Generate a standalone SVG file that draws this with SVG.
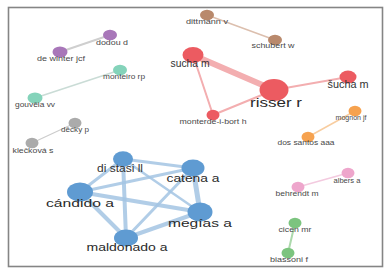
<svg xmlns="http://www.w3.org/2000/svg" width="391" height="272" viewBox="0 0 391 272">
<style>
text{font-family:"Liberation Sans",Arial,sans-serif;text-anchor:middle}
.s{font-size:7.8px;fill:#484848}
.m{font-size:10px;fill:#333}
.l{font-size:11.5px;fill:#2a2a2a}
.xl{font-size:13.5px;fill:#2a2a2a}
.red{fill:#ec5b61}
.blue{fill:#5f9bd2}
.purple{fill:#a877b9}
.teal{fill:#84d3ba}
.gray{fill:#ababab}
.brown{fill:#b9896c}
.orange{fill:#f6a24f}
.pink{fill:#eea6cc}
.green{fill:#7cc47f}
#edges line{stroke-linecap:round;fill:none}
.er{stroke:#f3aeb0}
.eb{stroke:#a3c4e3;stroke-opacity:0.85}
</style>
<rect x="0" y="0" width="391" height="272" fill="#fff"/>
<rect x="8.5" y="7.5" width="374" height="259" fill="none" stroke="#858585" stroke-width="1.6"/>
<g id="edges">
<line x1="207" y1="15" x2="275" y2="40" stroke="#dcbfae" stroke-width="1.5"/>
<line x1="110" y1="35" x2="60" y2="52" stroke="#cfcfcf" stroke-width="2"/>
<line x1="120" y1="70" x2="35" y2="98" stroke="#cadcd6" stroke-width="1.5"/>
<line x1="75" y1="123" x2="32" y2="143" stroke="#cccccc" stroke-width="1.2"/>
<line class="er" x1="193" y1="55" x2="274" y2="90" stroke-width="6"/>
<line class="er" x1="193" y1="55" x2="213" y2="115" stroke-width="2"/>
<line class="er" x1="213" y1="115" x2="274" y2="90" stroke-width="2"/>
<line class="er" x1="274" y1="90" x2="348" y2="77" stroke-width="2"/>
<line x1="308" y1="137" x2="355" y2="111" stroke="#f8cda0" stroke-width="1.5"/>
<line x1="348" y1="173" x2="298" y2="187" stroke="#f3cadf" stroke-width="1.5"/>
<line x1="295" y1="223" x2="288" y2="253" stroke="#acd9ac" stroke-width="2"/>
<line class="eb" x1="80" y1="192" x2="123" y2="159" stroke-width="3"/>
<line class="eb" x1="80" y1="192" x2="193" y2="168" stroke-width="3"/>
<line class="eb" x1="80" y1="192" x2="200" y2="212" stroke-width="4"/>
<line class="eb" x1="80" y1="192" x2="126" y2="238" stroke-width="4"/>
<line class="eb" x1="123" y1="159" x2="193" y2="168" stroke-width="3"/>
<line class="eb" x1="123" y1="159" x2="200" y2="212" stroke-width="2.5"/>
<line class="eb" x1="123" y1="159" x2="126" y2="238" stroke-width="4"/>
<line class="eb" x1="193" y1="168" x2="200" y2="212" stroke-width="5"/>
<line class="eb" x1="193" y1="168" x2="126" y2="238" stroke-width="3"/>
<line class="eb" x1="200" y1="212" x2="126" y2="238" stroke-width="4"/>
</g>
<g id="n-dittmann"><ellipse class="brown" cx="207" cy="15" rx="7" ry="5.2"/><text class="s" x="207" y="24" textLength="42" lengthAdjust="spacingAndGlyphs">dittmann v</text></g>
<g id="n-schubert"><ellipse class="brown" cx="275" cy="40" rx="7" ry="5.2"/><text class="s" x="273" y="48" textLength="43" lengthAdjust="spacingAndGlyphs">schubert w</text></g>
<g id="n-sucha1"><ellipse class="red" cx="193" cy="55" rx="10.5" ry="8"/><text class="m" x="190" y="67" textLength="39" lengthAdjust="spacingAndGlyphs">sucha m</text></g>
<g id="n-risser"><ellipse class="red" cx="274" cy="90" rx="14.5" ry="11"/><text class="xl" x="276" y="106.5" textLength="52" lengthAdjust="spacingAndGlyphs">risser r</text></g>
<g id="n-sucha2"><ellipse class="red" cx="348" cy="77" rx="8.5" ry="6.5"/><text class="m" x="348" y="88" textLength="41" lengthAdjust="spacingAndGlyphs">šucha m</text></g>
<g id="n-monterde"><ellipse class="red" cx="213" cy="115" rx="6.5" ry="5.3"/><text class="s" x="213" y="124" textLength="67" lengthAdjust="spacingAndGlyphs">monterde-i-bort h</text></g>
<g id="n-mognon"><ellipse class="orange" cx="355" cy="111" rx="6.5" ry="5.3"/><text class="s" x="351" y="120" textLength="31" lengthAdjust="spacingAndGlyphs">mognon jf</text></g>
<g id="n-dossantos"><ellipse class="orange" cx="308" cy="137" rx="6.5" ry="5.3"/><text class="s" x="306" y="145" textLength="57" lengthAdjust="spacingAndGlyphs">dos santos aaa</text></g>
<g id="n-albers"><ellipse class="pink" cx="348" cy="173" rx="6.5" ry="5.3"/><text class="s" x="347" y="183" textLength="27" lengthAdjust="spacingAndGlyphs">albers a</text></g>
<g id="n-behrendt"><ellipse class="pink" cx="298" cy="187" rx="6.5" ry="5.3"/><text class="s" x="297" y="196" textLength="43" lengthAdjust="spacingAndGlyphs">behrendt m</text></g>
<g id="n-cicen"><ellipse class="green" cx="295" cy="223" rx="6.5" ry="5.3"/><text class="s" x="295" y="232" textLength="33" lengthAdjust="spacingAndGlyphs">cicen mr</text></g>
<g id="n-biassoni"><ellipse class="green" cx="288" cy="253" rx="6.5" ry="5.3"/><text class="s" x="289" y="262" textLength="38" lengthAdjust="spacingAndGlyphs">biassoni f</text></g>
<g id="n-dodou"><ellipse class="purple" cx="110" cy="35" rx="7" ry="5.3"/><text class="s" x="112" y="44.5" textLength="32" lengthAdjust="spacingAndGlyphs">dodou d</text></g>
<g id="n-dewinter"><ellipse class="purple" cx="60" cy="52" rx="7.5" ry="5.6"/><text class="s" x="61" y="61" textLength="48" lengthAdjust="spacingAndGlyphs">de winter jcf</text></g>
<g id="n-monteiro"><ellipse class="teal" cx="120" cy="70" rx="7" ry="5.3"/><text class="s" x="124" y="79" textLength="42" lengthAdjust="spacingAndGlyphs">monteiro rp</text></g>
<g id="n-gouveia"><ellipse class="teal" cx="35" cy="98" rx="7.5" ry="5.6"/><text class="s" x="35" y="107" textLength="40" lengthAdjust="spacingAndGlyphs">gouvêia vv</text></g>
<g id="n-decky"><ellipse class="gray" cx="75" cy="123" rx="6.5" ry="5.3"/><text class="s" x="75" y="132" textLength="28" lengthAdjust="spacingAndGlyphs">děcky p</text></g>
<g id="n-kleckova"><ellipse class="gray" cx="32" cy="143" rx="6.5" ry="5.3"/><text class="s" x="33" y="153" textLength="41" lengthAdjust="spacingAndGlyphs">klečková s</text></g>
<g id="n-distasi"><ellipse class="blue" cx="123" cy="159" rx="10" ry="7.8"/><text class="m" x="120" y="172" textLength="46" lengthAdjust="spacingAndGlyphs">di stasi ll</text></g>
<g id="n-catena"><ellipse class="blue" cx="193" cy="168" rx="11.5" ry="8.5"/><text class="l" x="193" y="182" textLength="53" lengthAdjust="spacingAndGlyphs">catena a</text></g>
<g id="n-candido"><ellipse class="blue" cx="80" cy="192" rx="13" ry="9.5"/><text class="l" x="80" y="207" textLength="68" lengthAdjust="spacingAndGlyphs">cándido a</text></g>
<g id="n-megias"><ellipse class="blue" cx="200" cy="212" rx="12.5" ry="9.5"/><text class="l" x="200" y="227" textLength="64" lengthAdjust="spacingAndGlyphs">megías a</text></g>
<g id="n-maldonado"><ellipse class="blue" cx="126" cy="238" rx="12" ry="8.5"/><text class="l" x="127" y="251" textLength="81" lengthAdjust="spacingAndGlyphs">maldonado a</text></g>
</svg>
